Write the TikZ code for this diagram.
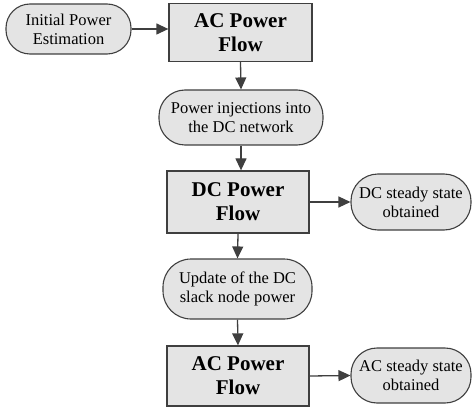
\documentclass[tikz,border=0pt]{standalone}
\usepackage{fontspec}
\setmainfont{Liberation Serif}
\usetikzlibrary{arrows.meta}
\definecolor{edgegray}{HTML}{3F3F3F}
\definecolor{fillgray}{HTML}{E4E4E4}
\tikzset{
  procbox/.style={draw=edgegray, fill=fillgray, line width=1.3pt, align=center,
    inner sep=0pt, font=\fontsize{21}{24}\selectfont\bfseries},
  termbox/.style={draw=edgegray, fill=fillgray, line width=1.1pt, align=center,
    inner sep=0pt, font=\fontsize{16.5}{19}\selectfont},
  flow/.style={draw=edgegray, line width=1.3pt, -{Triangle[length=12pt,width=11pt]}}
}
\begin{document}
\begin{tikzpicture}[x=1pt,y=-1pt]
\useasboundingbox (0,0) rectangle (473,414);
\node[termbox, minimum width=125pt, minimum height=50pt, rounded corners=24pt] (init) at (68.5,29) {Initial Power\\Estimation};
\node[procbox, minimum width=143pt, minimum height=58pt] (ac1) at (240.5,32.5) {AC Power\\Flow};
\node[termbox, minimum width=164pt, minimum height=55pt, rounded corners=26pt] (inj) at (241,117.5) {Power injections into\\the DC network};
\node[procbox, minimum width=142pt, minimum height=62pt] (dc) at (238,202) {DC Power\\Flow};
\node[termbox, minimum width=120pt, minimum height=56pt, rounded corners=27pt] (dcs) at (411,202) {DC steady state\\obtained};
\node[termbox, minimum width=149pt, minimum height=60pt, rounded corners=28pt] (upd) at (237.5,289) {Update of the DC\\slack node power};
\node[procbox, minimum width=142pt, minimum height=60pt] (ac2) at (238,376) {AC Power\\Flow};
\node[termbox, minimum width=120pt, minimum height=55pt, rounded corners=26pt] (acs) at (411,375.5) {AC steady state\\obtained};
\draw[flow] (init.east) -- (init.east -| ac1.west);
\draw[flow] (ac1.south) -- (inj.north);
\draw[flow] (inj.south) -- (inj.south |- dc.north);
\draw[flow] (dc.east) -- (dcs.west);
\draw[flow] (dc.south) -- (upd.north);
\draw[flow] (upd.south) -- (ac2.north);
\draw[flow] (ac2.east) -- (acs.west);
\end{tikzpicture}
\end{document}
